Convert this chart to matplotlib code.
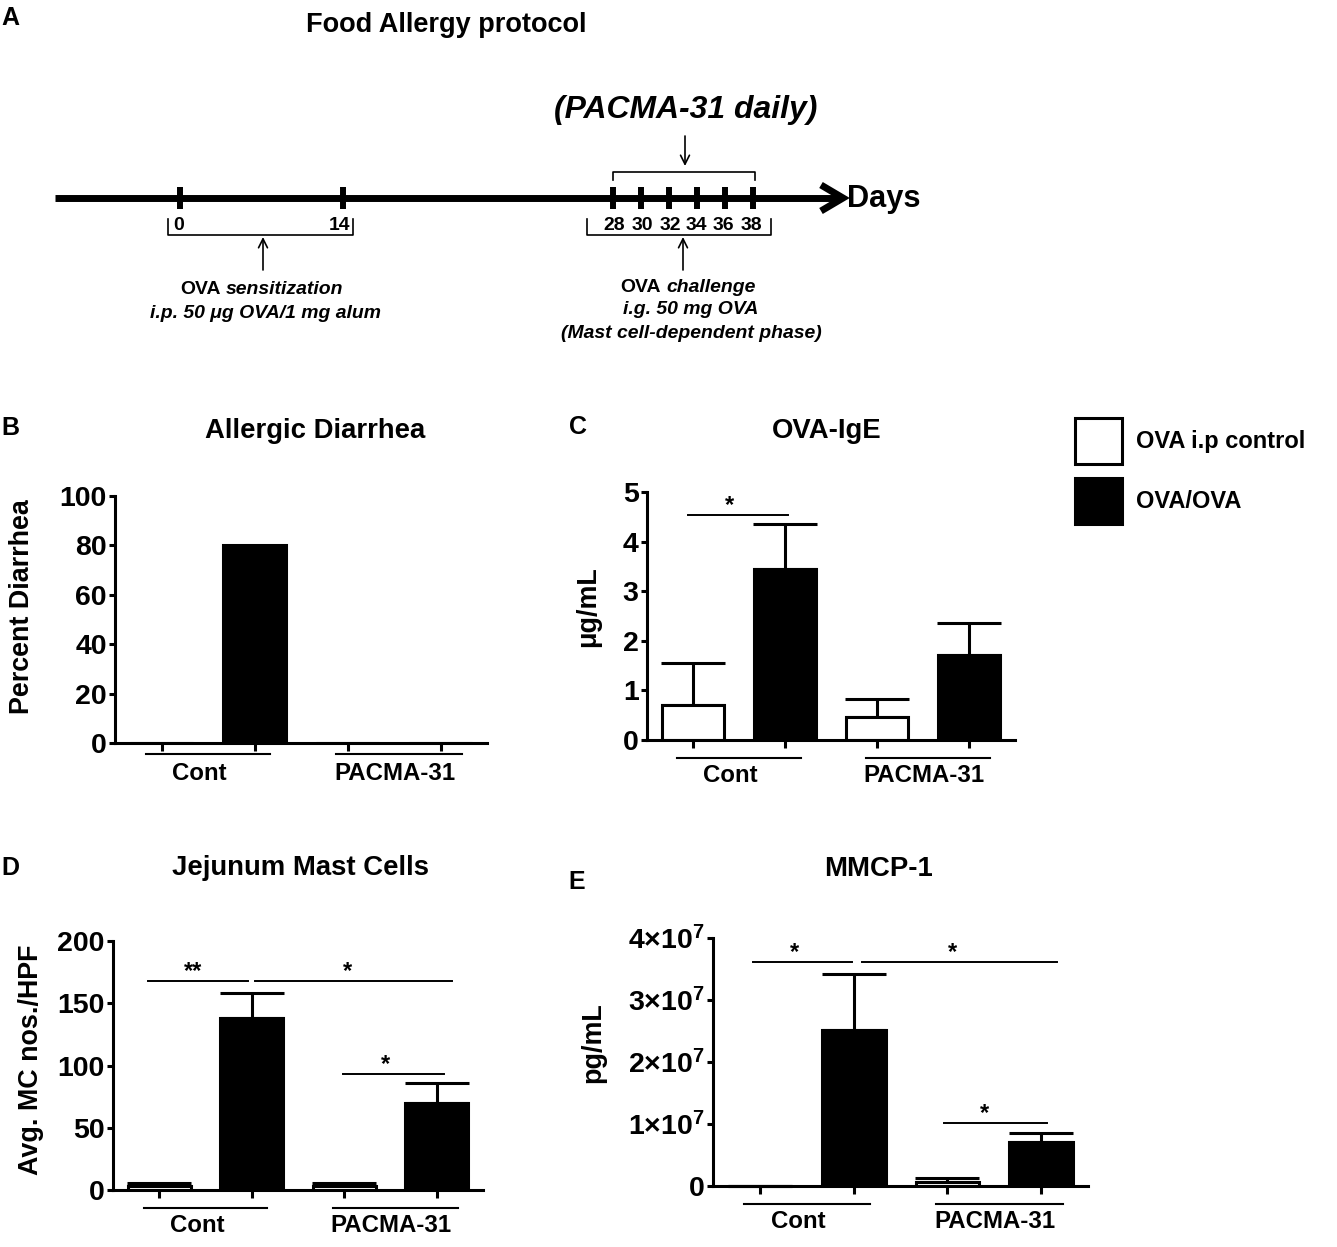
import matplotlib
matplotlib.use("Agg")
import matplotlib.pyplot as plt
import matplotlib.font_manager as fm
from matplotlib import transforms
import numpy as np

W, H, DPI = 1337, 1247, 100

# ------------------------- data -------------------------
groups = ["Cont", "PACMA-31"]
series = ["OVA i.p control", "OVA/OVA"]

diarrhea = [0, 80, 0, 0]

ige = [0.70, 3.45, 0.47, 1.71]
ige_err = [0.85, 0.90, 0.36, 0.65]

mast = [3, 138, 3, 70]
mast_err = [3, 20, 2.5, 16]

mmcp = [0.0, 2.52e7, 0.07e7, 0.71e7]
mmcp_err = [0.0, 0.90e7, 0.06e7, 0.14e7]

ige_sig_x0 = [-0.05]
ige_sig_x1 = [1.03]
ige_sig_y = [4.54]
ige_sig_tx = [0.40]
ige_sig_txt = ["*"]

mast_sig_x0 = [-0.12, 1.03, 1.99]
mast_sig_x1 = [0.96, 3.17, 3.08]
mast_sig_y = [168, 168, 93]
mast_sig_tx = [0.37, 2.03, 2.45]
mast_sig_txt = ["**", "*", "*"]

mmcp_sig_x0 = [-0.07, 1.09, 1.96]
mmcp_sig_x1 = [0.98, 3.17, 3.06]
mmcp_sig_y = [3.61e7, 3.61e7, 1.02e7]
mmcp_sig_tx = [0.37, 2.05, 2.40]
mmcp_sig_txt = ["*", "*", "*"]

day_labels = ["0", "14", "28", "30", "32", "34", "36", "38"]

# ------------------------- fonts -------------------------
names = {f.name for f in fm.fontManager.ttflist}
NARROW = "Liberation Sans Narrow" in names
plt.rcParams["font.family"] = ["Liberation Sans", "DejaVu Sans"]
plt.rcParams["font.weight"] = "bold"
plt.rcParams["mathtext.fontset"] = "custom"
plt.rcParams["mathtext.bf"] = "Liberation Sans:bold"
plt.rcParams["mathtext.rm"] = "Liberation Sans:bold"
plt.rcParams["mathtext.default"] = "bf"
narrow_family = ["Liberation Sans Narrow", "Liberation Sans", "DejaVu Sans"] if NARROW else ["Liberation Sans", "DejaVu Sans"]
k = 1.0 if NARROW else 0.82   # size factor for condensed text

FS = 17          # group labels, legend
FS_TICK = 20.5   # y tick labels
FS_TITLE = 19.8  # panel titles
FS_YLAB = 19.4   # y axis labels

fig = plt.figure(figsize=(W / DPI, H / DPI), dpi=DPI)

# overlay axes in pixel coordinates (for schematic panel A, titles, letters)
ax0 = fig.add_axes([0, 0, 1, 1])
ax0.set_xlim(0, W)
ax0.set_ylim(H, 0)
ax0.axis("off")

# ------------------------- panel A -------------------------
ax0.text(10, 18, "A", fontsize=18, fontweight="bold", ha="center", va="center")
ax0.text(446, 25, "Food Allergy protocol", fontsize=19.5, fontweight="bold",
         ha="center", va="center", family=["Liberation Sans", "DejaVu Sans"])

ax0.plot([55, 836], [198, 198], color="k", lw=5, solid_capstyle="butt")
ax0.plot([821, 843, 821], [185, 198, 211], color="k", lw=5, solid_capstyle="butt", solid_joinstyle="miter")
ax0.text(847, 199, "Days", fontsize=27 * k, fontweight="bold", ha="left", va="center", family=narrow_family)

tick_px = [180, 343, 613, 641, 669, 697, 725, 753]
label_px = [179, 339, 614, 642, 670, 696, 723, 751]
for x in tick_px:
    ax0.plot([x, x], [187, 209], color="k", lw=4.3, solid_capstyle="butt")
for x, lab in zip(label_px, day_labels):
    ax0.text(x, 226, lab, fontsize=17 * k, fontweight="bold", ha="center", va="center", family=narrow_family)

# brackets
ax0.plot([168, 168, 353, 353], [219, 235, 235, 219], color="k", lw=1.2)
ax0.plot([587, 587, 771, 771], [219, 235, 235, 219], color="k", lw=1.2)
ax0.plot([613, 613, 755, 755], [180, 172, 172, 180], color="k", lw=1.2)

arr = dict(arrowstyle="->", lw=1.2, color="k", mutation_scale=16, shrinkA=0, shrinkB=0)
ax0.annotate("", xy=(263, 237), xytext=(263, 270), arrowprops=arr)
ax0.annotate("", xy=(683, 237), xytext=(683, 270), arrowprops=arr)
ax0.annotate("", xy=(685, 166), xytext=(685, 136), arrowprops=arr)

ax0.text(686, 110, "(PACMA-31 daily)", fontsize=28 * k, fontweight="bold", style="italic",
         ha="center", va="center", family=narrow_family)

ax0.text(221, 290, "OVA", fontsize=FS * k, fontweight="bold", ha="right", va="center", family=narrow_family)
ax0.text(226, 290, "sensitization", fontsize=FS * k, fontweight="bold", style="italic", ha="left", va="center",
         family=narrow_family)
ax0.text(265, 313, "i.p. 50 \u03bcg OVA/1 mg alum", fontsize=FS * k, fontweight="bold", style="italic",
         ha="center", va="center", family=narrow_family)

ax0.text(661, 288, "OVA", fontsize=FS * k, fontweight="bold", ha="right", va="center", family=narrow_family)
ax0.text(666, 288, "challenge", fontsize=FS * k, fontweight="bold", style="italic", ha="left", va="center",
         family=narrow_family)
ax0.text(691, 310, "i.g. 50 mg OVA", fontsize=FS * k, fontweight="bold", style="italic",
         ha="center", va="center", family=narrow_family)
ax0.text(691, 333, "(Mast cell-dependent phase)", fontsize=FS * k, fontweight="bold", style="italic",
         ha="center", va="center", family=narrow_family)


# ------------------------- bar panels -------------------------
def add_px_axes(left, top, right, bottom):
    return fig.add_axes([left / W, 1 - bottom / H, (right - left) / W, (bottom - top) / H])


xpos = np.arange(4)
colors = ["white", "black", "white", "black"]


def bar_panel(box, vals, errs, ylim, yticks, yticklabels, ylabel, ylab_px, under_off, lab_off,
              sig=None):
    left, top, right, bottom = box
    ax = add_px_axes(left, top, right, bottom)
    bars = ax.bar(xpos, vals, width=0.68, color=colors, edgecolor="black", linewidth=2.2, zorder=2)
    if errs is not None:
        ax.errorbar(xpos, vals, yerr=[np.zeros(4), errs], fmt="none", ecolor="black",
                    elinewidth=2.2, capsize=23, capthick=2.2, zorder=1, clip_on=False)
    ax.set_xlim(-0.5, 3.5)
    ax.set_ylim(*ylim)
    ax.set_yticks(yticks, yticklabels)
    ax.set_xticks(xpos, [""] * 4)
    for s in ["top", "right"]:
        ax.spines[s].set_visible(False)
    for s in ["left", "bottom"]:
        ax.spines[s].set_linewidth(2.2)
    ax.tick_params(axis="y", direction="out", length=4.5, width=2.2, pad=1.5, labelsize=FS_TICK)
    ax.tick_params(axis="x", direction="out", length=6, width=2.2)
    for t in ax.get_yticklabels():
        t.set_fontweight("bold")
    ax.set_ylabel(ylabel, fontsize=FS_YLAB, fontweight="bold", ha="center", va="center")
    ax.yaxis.set_label_coords((ylab_px[0] - left) / (right - left), (bottom - ylab_px[1]) / (bottom - top))

    blend = transforms.blended_transform_factory(ax.transData, ax0.transData)
    for g0, g1 in [(-0.17, 1.17), (1.88, 3.23)]:
        ax.plot([g0, g1], [bottom + under_off] * 2, color="k", lw=1.5, transform=blend, clip_on=False)
    for gx, g in zip([0.41, 2.51], groups):
        ax.text(gx, bottom + lab_off, g, fontsize=FS + 0.3, fontweight="bold", ha="center", va="center",
                transform=blend)

    if sig is not None:
        x0s, x1s, ys, txs, txts = sig
        star_tr = transforms.offset_copy(ax.transData, fig=fig, x=0, y=3, units="dots")
        for x0, x1, y, tx, txt in zip(x0s, x1s, ys, txs, txts):
            ax.plot([x0, x1], [y, y], color="k", lw=1.4, clip_on=False)
            ax.text(tx, y, txt, fontsize=FS, fontweight="bold", ha="center", va="baseline",
                    transform=star_tr)
    return ax, bars


# B
axB, barsB = bar_panel((115, 496, 487, 743), diarrhea, None, (0, 100), [0, 20, 40, 60, 80, 100],
                       ["0", "20", "40", "60", "80", "100"], "Percent Diarrhea", (22, 607), 11, 30)
# C
axC, barsC = bar_panel((647, 492, 1015, 740), ige, ige_err, (0, 5), [0, 1, 2, 3, 4, 5],
                       ["0", "1", "2", "3", "4", "5"], "\u03bcg/mL", (588, 607), 18, 35,
                       sig=(ige_sig_x0, ige_sig_x1, ige_sig_y, ige_sig_tx, ige_sig_txt))
# D
axD, barsD = bar_panel((113, 941, 483, 1190), mast, mast_err, (0, 200), [0, 50, 100, 150, 200],
                       ["0", "50", "100", "150", "200"], "Avg. MC nos./HPF", (31, 1060), 18, 35,
                       sig=(mast_sig_x0, mast_sig_x1, mast_sig_y, mast_sig_tx, mast_sig_txt))
# E
axE, barsE = bar_panel((713, 938, 1088, 1186), mmcp, mmcp_err, (0, 4e7), [0, 1e7, 2e7, 3e7, 4e7],
                       ["0", r"$1{\times}10^{7}$", r"$2{\times}10^{7}$", r"$3{\times}10^{7}$", r"$4{\times}10^{7}$"],
                       "pg/mL", (593, 1043), 18, 36,
                       sig=(mmcp_sig_x0, mmcp_sig_x1, mmcp_sig_y, mmcp_sig_tx, mmcp_sig_txt))

# titles and letters
ax0.text(10, 428, "B", fontsize=18, fontweight="bold", ha="center", va="center")
ax0.text(578, 427, "C", fontsize=18, fontweight="bold", ha="center", va="center")
ax0.text(10, 868, "D", fontsize=18, fontweight="bold", ha="center", va="center")
ax0.text(577, 882, "E", fontsize=18, fontweight="bold", ha="center", va="center")
ax0.text(315, 431, "Allergic Diarrhea", fontsize=FS_TITLE, fontweight="bold", ha="center", va="center")
ax0.text(827, 431, "OVA-IgE", fontsize=FS_TITLE, fontweight="bold", ha="center", va="center")
ax0.text(301, 868, "Jejunum Mast Cells", fontsize=FS_TITLE, fontweight="bold", ha="center", va="center")
ax0.text(878, 869, "MMCP-1", fontsize=FS_TITLE, fontweight="bold", ha="center", va="center")

# legend
fig.legend(handles=[barsC.patches[0], barsC.patches[1]], labels=series,
           loc="upper left", bbox_to_anchor=(1075 / W, 1 - 418 / H), frameon=False,
           borderpad=0, borderaxespad=0, handlelength=2.0, handleheight=2.62,
           labelspacing=0.59, handletextpad=0.6, prop=dict(size=FS, weight="bold"))

fig.savefig("out.png", dpi=DPI)
